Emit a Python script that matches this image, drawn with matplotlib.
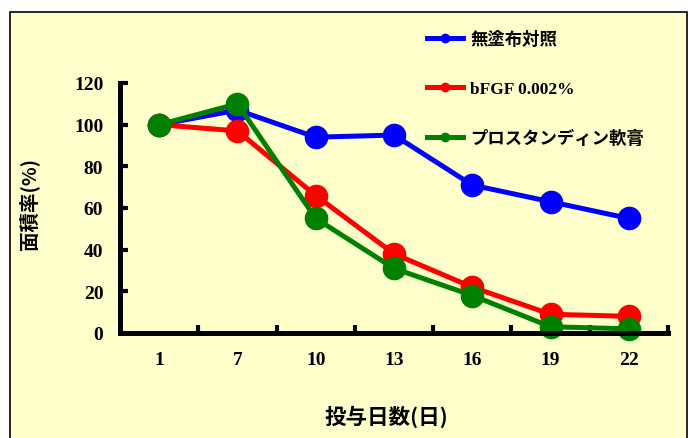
import matplotlib
matplotlib.use("Agg")
import matplotlib.pyplot as plt
from matplotlib.patches import Rectangle
import numpy as np

days = ["1", "7", "10", "13", "16", "19", "22"]
control = [100, 107, 94, 95, 71, 63, 55]
bfgf = [100, 97, 66, 38, 22, 9, 8]
prostandin = [100, 110, 55, 31, 18, 3, 2]
series_names = ["無塗布対照", "bFGF 0.002%", "プロスタンディン軟膏"]
series_colors = ["#0000FF", "#FF0000", "#008000"]
yticks = [0, 20, 40, 60, 80, 100, 120]

fam = ["Liberation Serif", "Noto Sans CJK JP"]
famjp = ["Noto Sans CJK JP", "Liberation Serif"]

fig = plt.figure(figsize=(6.89, 4.39), dpi=100)
fig.patch.set_facecolor("white")
bg = Rectangle((10/689, -0.01), 677/689, 1 - 13/439 + 0.01,
               transform=fig.transFigure, facecolor="#FFFFCC",
               edgecolor="black", linewidth=1.2, zorder=-10)
fig.patches.append(bg)

ax = fig.add_axes([120/689, 1 - 334/439, 548/689, 250/439])
ax.set_facecolor("none")
ax.set_zorder(1)
x = np.arange(len(days))
lines = []
for vals, name, c in zip([control, bfgf, prostandin], series_names, series_colors):
    ln, = ax.plot(x, vals, color=c, lw=3.6, marker="o", markersize=16,
                  label=name, clip_on=False)
    lines.append(ln)

ax.set_xlim(-0.5, len(days) - 0.5)
ax.set_ylim(0, 120)
for s in ["top", "right"]:
    ax.spines[s].set_visible(False)
for s in ["left", "bottom"]:
    ax.spines[s].set_linewidth(3.6)
    ax.spines[s].set_capstyle("projecting")
ax.set_yticks(yticks)
ax.set_yticklabels([str(v) for v in yticks])
ax.set_xticks(x)
ax.set_xticklabels(days)
ax.set_xticks(np.arange(len(days)) + 0.5, minor=True)
ax.tick_params(axis="x", which="major", length=0, pad=13)
ax.tick_params(axis="x", which="minor", direction="in", length=5.5, width=3)
ax.tick_params(axis="y", which="major", direction="in", length=5.5, width=3, pad=12)
for lab in ax.get_xticklabels() + ax.get_yticklabels():
    lab.set_fontfamily(fam)
    lab.set_fontweight("bold")
    lab.set_fontsize(14)

ax.set_xlabel("投与日数(日)", fontfamily=famjp, fontweight="bold", fontsize=15.5)
ax.xaxis.set_label_coords(0.486, -0.285)
ax.set_ylabel("面積率(%)", fontfamily=famjp, fontweight="bold", fontsize=14)
ax.yaxis.set_label_coords(-0.148, 0.52)

leg = fig.legend(handles=lines, loc="upper left", bbox_to_anchor=(427/689, 1 - 32/439),
                 frameon=False, prop={"family": fam, "weight": "bold", "size": 12.5},
                 handlelength=2.1, handletextpad=0.4, labelspacing=1.9,
                 borderpad=0, borderaxespad=0)
for h in leg.legend_handles:
    h.set_markersize(6)
    h.set_linewidth(3.6)

fig.savefig("out.png", dpi=100)
